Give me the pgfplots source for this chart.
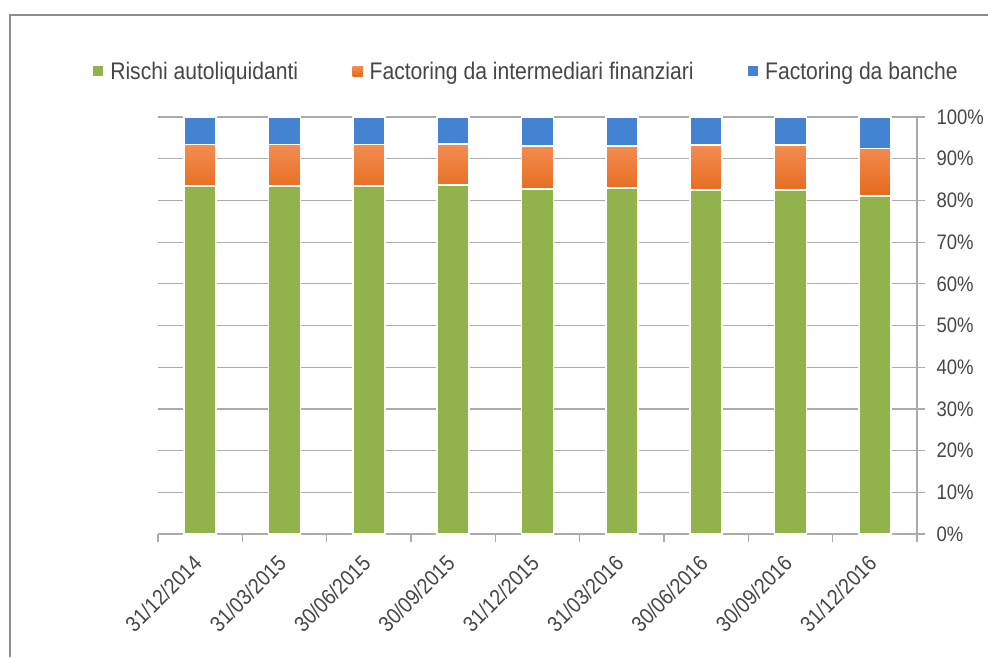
\documentclass[border=0pt]{standalone}
\usepackage{fontspec}
\setmainfont{Liberation Sans}[FakeStretch=0.88]
\usepackage{pgfplots}
\usepackage{pgfplotstable}
\pgfplotsset{compat=1.18}
\definecolor{cgreen}{HTML}{92B34C}
\definecolor{corangeT}{HTML}{F38D52}
\definecolor{corangeB}{HTML}{E5691B}
\definecolor{cblue}{HTML}{4483D2}
\definecolor{cgrid}{HTML}{ABABAB}
\definecolor{ctext}{HTML}{464646}
\definecolor{cframe}{HTML}{8C8C8C}

% quote per data: rischi autoliquidanti / factoring intermediari / factoring banche
\pgfplotstableread{
x auto interm banche
0 83.5 9.9 6.6
1 83.5 9.9 6.6
2 83.5 9.9 6.6
3 83.7 9.8 6.5
4 82.7 10.3 7.0
5 83.0 10.0 7.0
6 82.5 10.8 6.7
7 82.5 10.8 6.7
8 81.0 11.5 7.5
}\quote

\begin{document}
\begin{tikzpicture}
\path[use as bounding box] (0pt,0pt) rectangle (988pt,657pt);
\draw[cframe,line width=1.3pt] (10pt,0pt) -- (10pt,642pt) -- (988pt,642pt);
\begin{axis}[
  at={(158pt,123pt)}, anchor=south west,
  scale only axis, width=759pt, height=417pt,
  ybar stacked, bar width=32pt,
  xmin=-0.5, xmax=8.5, ymin=0, ymax=100,
  axis x line*=bottom, axis y line*=right,
  axis line style={cgrid,line width=1.2pt},
  tick style={cgrid,line width=1.2pt},
  tick align=outside, major tick length=8pt,
  xtick={-0.5,0.5,...,8.5}, xticklabels={},
  extra x ticks={0,1,...,8},
  extra x tick labels={31/12/2014,31/03/2015,30/06/2015,30/09/2015,31/12/2015,31/03/2016,30/06/2016,30/09/2016,31/12/2016},
  extra x tick style={major tick length=0pt, grid=none,
    tick label style={xshift=0pt, yshift=-23pt, rotate=45, anchor=east,
      font=\fontsize{22}{24}\selectfont}},
  ytick={0,10,...,100},
  yticklabels={0\%,10\%,20\%,30\%,40\%,50\%,60\%,70\%,80\%,90\%,100\%},
  yticklabel pos=right,
  y tick label style={anchor=west, xshift=8pt, font=\fontsize{21}{24}\selectfont},
  ymajorgrids, grid style={cgrid,line width=1.2pt},
  tick label style={text=ctext},
  legend columns=3,
  legend style={draw=none, fill=none, at={(0.4855,1.11)}, anchor=center,
    font=\fontsize{24}{26}\selectfont, text=ctext,
    /tikz/every odd column/.append style={column sep=5pt},
    /tikz/every even column/.append style={column sep=52.5pt}},
  legend image code/.code={\fill[#1,draw=none] (0pt,-5pt) rectangle (10pt,5pt);},
]
\addplot[fill=cgreen, draw=white, line width=1.5pt] table[x=x,y=auto] {\quote};
\addlegendentry{Rischi autoliquidanti}
\addplot[fill=corangeB, top color=corangeT, bottom color=corangeB, draw=white, line width=1.5pt] table[x=x,y=interm] {\quote};
\addlegendentry{Factoring da intermediari finanziari}
\addplot[fill=cblue, draw=white, line width=1.5pt] table[x=x,y=banche] {\quote};
\addlegendentry{Factoring da banche}
\end{axis}
\end{tikzpicture}
\end{document}
